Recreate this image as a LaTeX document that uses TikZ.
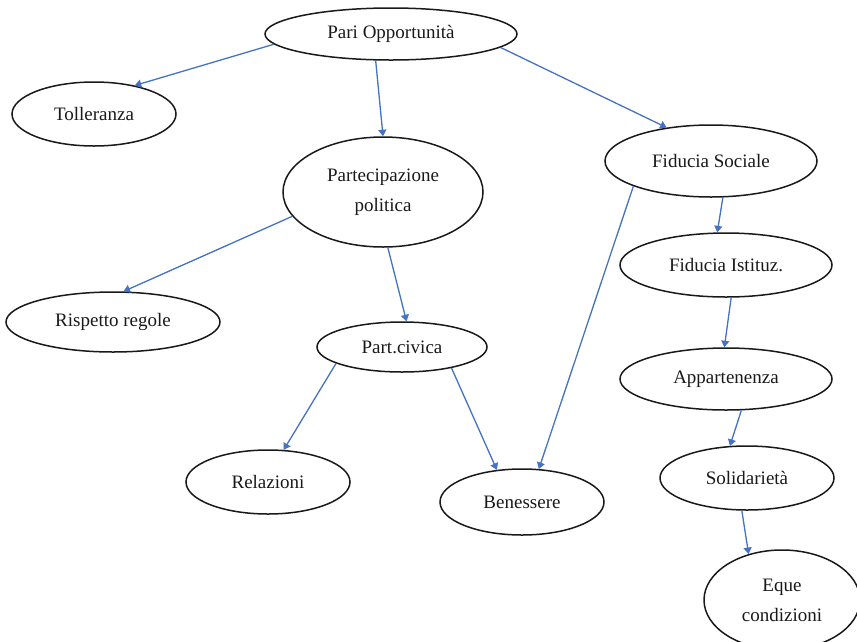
\documentclass[tikz,border=0pt]{standalone}
\usepackage{fontspec}
\setmainfont{Liberation Serif}
\usetikzlibrary{shapes.geometric,arrows.meta}
\definecolor{arrblue}{HTML}{4472C4}
\tikzset{
  oval/.style={ellipse, draw=black!90, line width=1.5pt, inner sep=0pt, align=center,
    font=\fontsize{19}{30}\selectfont, text=black!90},
  link/.style={draw=arrblue, line width=1.3pt, -{Triangle[length=6.5pt,width=8pt]}}
}
\begin{document}
\begin{tikzpicture}[x=1pt,y=-1pt]
\useasboundingbox (0,0) rectangle (857,641);
\node[oval, minimum width=252pt, minimum height=52pt] (pari) at (391,34) {Pari Opportunità};
\node[oval, minimum width=164pt, minimum height=64pt] (tol) at (94,114) {Tolleranza};
\node[oval, minimum width=200pt, minimum height=110pt] (part) at (383,192) {Partecipazione\\politica};
\node[oval, minimum width=212pt, minimum height=72pt] (fsoc) at (711,161) {Fiducia Sociale};
\node[oval, minimum width=212pt, minimum height=64pt] (fist) at (726,265) {Fiducia Istituz.};
\node[oval, minimum width=214pt, minimum height=60pt] (risp) at (113,322) {Rispetto regole};
\node[oval, minimum width=170pt, minimum height=50pt] (civ) at (402,347) {Part.civica};
\node[oval, minimum width=212pt, minimum height=62pt] (app) at (726,379) {Appartenenza};
\node[oval, minimum width=164pt, minimum height=64pt] (rel) at (268,482) {Relazioni};
\node[oval, minimum width=164pt, minimum height=66pt] (ben) at (522,502) {Benessere};
\node[oval, minimum width=174pt, minimum height=64pt] (sol) at (747,478) {Solidarietà};
\node[oval, minimum width=156pt, minimum height=100pt] (eque) at (782,600) {Eque\\condizioni};

\draw[link] (pari.185.1) -- (tol.35.2);
\draw[link] (pari.240.5) -- (part.90);
\draw[link] (pari.-7.7) -- (fsoc.143.3);
\draw[link] (part.195) -- (risp.71);
\draw[link] (part.275) -- (civ.80.5);
\draw[link] (fsoc.288) -- (fist.105);
\draw[link] (fsoc.198) -- (ben.63.4);
\draw[link] (civ.194.3) -- (rel.64);
\draw[link] (civ.337.4) -- (ben.128);
\draw[link] (fist.-81.4) -- (app.93.4);
\draw[link] (app.-64) -- (sol.118);
\draw[link] (sol.261) -- (eque.126.5);
\end{tikzpicture}
\end{document}
